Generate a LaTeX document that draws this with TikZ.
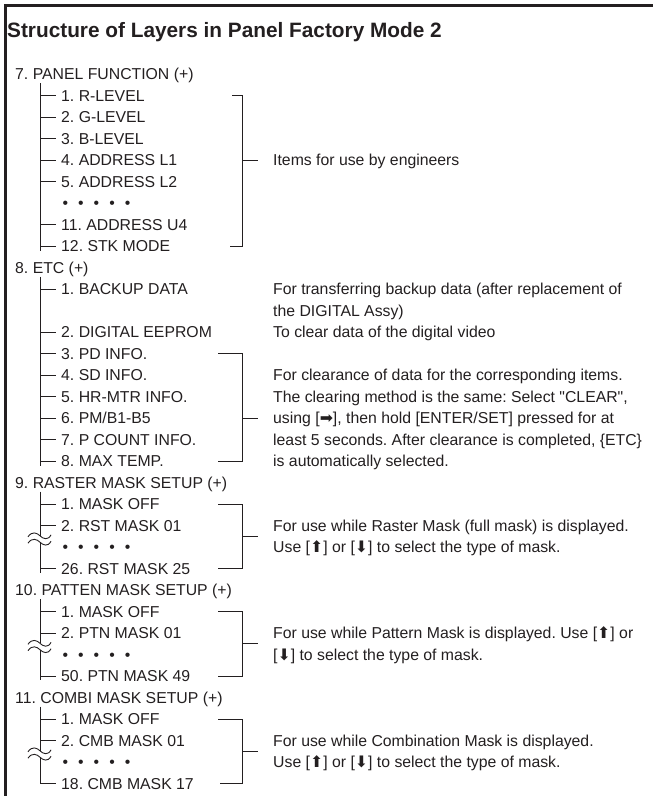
\documentclass[tikz,border=0pt]{standalone}
\usepackage{fontspec}
\setmainfont{Liberation Sans}[Ligatures=TeXOff]
\newfontfamily\symfont{DejaVu Sans}
\usetikzlibrary{calc}
\frenchspacing
\newcommand\arrU{{\symfont ⬆}}
\newcommand\arrD{{\symfont ⬇}}
\newcommand\arrR{{\symfont ➡}}
% row centre and baseline (in px, y grows downwards)
\newcommand\rc[1]{74+21.5*(#1)}
\newcommand\rb[1]{79.65+21.5*(#1)}
\definecolor{ink}{HTML}{231F20}
\tikzset{
  ln/.style={line width=0.9pt, draw=ink, line cap=butt},
  txt/.style={anchor=base west, inner sep=0pt, text height=11.3pt, text depth=0pt,
    font=\fontsize{15.8}{19}\selectfont, text=ink},
  head/.style={txt},
  item/.style={txt},
  note/.style={txt},
  brk/.pic={\draw[ln] (-12,1) .. controls (-8,-5) and (-3,-3) .. (0,0)
                      .. controls (3,3) and (8,5) .. (11,-1);}
}
\newcommand\itm[3]{\node[item] (#1) at (61,{\rb{#2}}) {#3};}
\newcommand\dotrow[2]{\node[item] (#1) at (62.5,{\rb{#2}}) {•\kern10pt•\kern10pt•\kern10pt•\kern10pt•};}
\newcommand\tick[2]{\draw[ln] (#1 |- #2.west) -- ([xshift=-5pt]#2.west);}
\newcommand\nt[3]{\node[note] (#1) at (273,{\rb{#2}}) {#3};}
\begin{document}
\begin{tikzpicture}[x=1pt,y=-1pt]
\useasboundingbox (0,0) rectangle (653,796);
% frame
\draw[line width=3pt, draw=ink, line join=miter] (653,5.5) -- (5,5.5) -- (5,797);
% title
\node[anchor=base west, inner sep=0pt, font=\fontsize{20.8}{24}\selectfont\bfseries, text=ink]
  (title) at (7,37) {Structure of Layers in Panel Factory Mode 2};

% ---------- 7. PANEL FUNCTION ----------
\node[head] (h7) at (15,{\rb{0}}) {7. PANEL FUNCTION (+)};
\coordinate (trA) at (40,{\rc{0}+9});
\itm{a1}{1}{1. R-LEVEL}
\itm{a2}{2}{2. G-LEVEL}
\itm{a3}{3}{3. B-LEVEL}
\itm{a4}{4}{4. ADDRESS L1}
\itm{a5}{5}{5. ADDRESS L2}
\dotrow{a6}{6}
\itm{a7}{7}{11. ADDRESS U4}
\itm{a8}{8}{12. STK MODE}
\draw[ln] (trA) -- ([yshift=-5pt]trA |- a8.west);
\foreach \n in {a1,a2,a3,a4,a5,a7,a8} {\tick{trA}{\n}}
\nt{nA}{4}{Items for use by engineers}
\draw[ln] (232,{\rc{1}}) -| (242,{\rc{8}}) -- (230,{\rc{8}});
\draw[ln] (242,{\rc{4}}) -- ([xshift=-15pt]nA.west);

% ---------- 8. ETC ----------
\node[head] (h8) at (15,{\rb{9}}) {8. ETC (+)};
\coordinate (trB) at (40,{\rc{9}+9});
\itm{b1}{10}{1. BACKUP DATA}
\itm{b2}{12}{2. DIGITAL EEPROM}
\itm{b3}{13}{3. PD INFO.}
\itm{b4}{14}{4. SD INFO.}
\itm{b5}{15}{5. HR-MTR INFO.}
\itm{b6}{16}{6. PM/B1-B5}
\itm{b7}{17}{7. P COUNT INFO.}
\itm{b8}{18}{8. MAX TEMP.}
\draw[ln] (trB) -- ([yshift=-5pt]trB |- b8.west);
\foreach \n in {b1,b2,b3,b4,b5,b6,b7,b8} {\tick{trB}{\n}}
\nt{nB1}{10}{For transferring backup data (after replacement of}
\nt{nB2}{11}{the DIGITAL Assy)}
\nt{nB3}{12}{To clear data of the digital video}
\nt{nB4}{14}{For clearance of data for the corresponding items.}
\nt{nB5}{15}{The clearing method is the same: Select "CLEAR",}
\nt{nB6}{16}{using [\arrR], then hold [ENTER/SET] pressed for at}
\nt{nB7}{17}{least 5 seconds. After clearance is completed, \{ETC\}}
\nt{nB8}{18}{is automatically selected.}
\draw[ln] (218,{\rc{13}}) -| (242,{\rc{18}}) -- (218,{\rc{18}});
\draw[ln] (242,{\rc{16}}) -- ([xshift=-15pt]nB6.west);

% ---------- 9. RASTER MASK SETUP ----------
\node[head] (h9) at (15,{\rb{19}}) {9. RASTER MASK SETUP (+)};
\coordinate (trC) at (40,{\rc{19}+9});
\itm{c1}{20}{1. MASK OFF}
\itm{c2}{21}{2. RST MASK 01}
\dotrow{c3}{22}
\itm{c4}{23}{26. RST MASK 25}
\draw[ln] (trC) -- (40,{\rc{22}-11.2});
\draw[ln] (40,{\rc{22}-4.8}) -- ([yshift=-4pt]trC |- c4.west);
\pic at (40,{\rc{22}-11.2}) {brk};
\pic at (40,{\rc{22}-4.8}) {brk};
\foreach \n in {c1,c2,c4} {\tick{trC}{\n}}
\nt{nC1}{21}{For use while Raster Mask (full mask) is displayed.}
\nt{nC2}{22}{Use [\arrU] or [\arrD] to select the type of mask.}
\draw[ln] (218,{\rc{20}}) -| (242,{\rc{23}}) -- (218,{\rc{23}});
\draw[ln] (242,{\rc{21.5}}) -- ($(nC1.west)!0.5!(nC2.west)+(-15,0)$);

% ---------- 10. PATTEN MASK SETUP ----------
\node[head] (h10) at (15,{\rb{24}}) {10. PATTEN MASK SETUP (+)};
\coordinate (trD) at (40,{\rc{24}+9});
\itm{d1}{25}{1. MASK OFF}
\itm{d2}{26}{2. PTN MASK 01}
\dotrow{d3}{27}
\itm{d4}{28}{50. PTN MASK 49}
\draw[ln] (trD) -- (40,{\rc{27}-11.2});
\draw[ln] (40,{\rc{27}-4.8}) -- ([yshift=-4pt]trD |- d4.west);
\pic at (40,{\rc{27}-11.2}) {brk};
\pic at (40,{\rc{27}-4.8}) {brk};
\foreach \n in {d1,d2,d4} {\tick{trD}{\n}}
\nt{nD1}{26}{For use while Pattern Mask is displayed. Use [\arrU] or}
\nt{nD2}{27}{[\arrD] to select the type of mask.}
\draw[ln] (218,{\rc{25}}) -| (242,{\rc{28}}) -- (218,{\rc{28}});
\draw[ln] (242,{\rc{26.5}}) -- ($(nD1.west)!0.5!(nD2.west)+(-15,0)$);

% ---------- 11. COMBI MASK SETUP ----------
\node[head] (h11) at (15,{\rb{29}}) {11. COMBI MASK SETUP (+)};
\coordinate (trE) at (40,{\rc{29}+9});
\itm{e1}{30}{1. MASK OFF}
\itm{e2}{31}{2. CMB MASK 01}
\dotrow{e3}{32}
\itm{e4}{33}{18. CMB MASK 17}
\draw[ln] (trE) -- (40,{\rc{32}-11.2});
\draw[ln, line join=miter] (40,{\rc{32}-4.8}) -- (trE |- e4.west) -- ([xshift=-5pt]e4.west);
\pic at (40,{\rc{32}-11.2}) {brk};
\pic at (40,{\rc{32}-4.8}) {brk};
\foreach \n in {e1,e2} {\tick{trE}{\n}}
\nt{nE1}{31}{For use while Combination Mask is displayed.}
\nt{nE2}{32}{Use [\arrU] or [\arrD] to select the type of mask.}
\draw[ln] (218,{\rc{30}}) -| (242,{\rc{33}}) -- (220,{\rc{33}});
\draw[ln] (242,{\rc{31.5}}) -- ($(nE1.west)!0.5!(nE2.west)+(-15,0)$);
\end{tikzpicture}
\end{document}
